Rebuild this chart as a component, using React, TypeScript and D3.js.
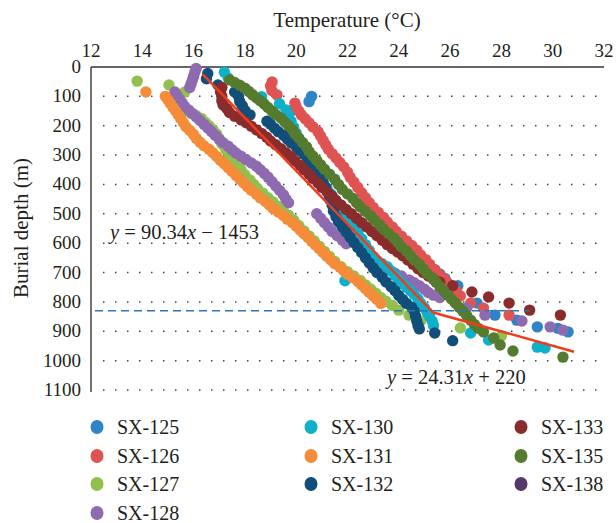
import React from "react";
import * as d3 from "d3";

// temperature (°C), burial depth (m)
const sx125 = [[20.6,100],[20.5,118],[19.8,150],[19.6,165],[24.6,640],[24.8,652],[25.0,665],[25.2,678],[25.4,690],[25.6,705],[25.8,720],[26.3,745],[27.05,804],[27.75,845],[28.6,862],[29.4,885],[30.2,890],[30.6,902]];
const sx126 = [[19.06,51],[19.0,65],[19.05,80],[19.25,95],[19.95,123],[20.0,137],[20.1,150],[20.2,163],[20.35,176],[20.5,190],[20.65,204],[20.85,220],[20.95,235],[21.05,250],[21.15,265],[21.25,280],[21.4,295],[21.55,310],[21.7,325],[21.85,340],[22.0,358],[22.1,375],[22.25,392],[22.4,410],[22.55,428],[22.7,445],[22.85,462],[23.0,478],[23.2,495],[23.4,512],[23.55,528],[23.75,545],[23.9,560],[24.1,576],[24.3,592],[24.5,608],[24.7,624],[24.85,640],[25.05,656],[25.2,672],[25.4,690],[25.55,705],[25.75,720],[25.9,735],[26.1,750],[26.25,765],[26.4,780],[26.8,804],[27.3,821],[28.3,845]];
const sx127 = [[13.8,48],[15.04,61],[15.66,85],[15.1,118],[15.25,130],[15.45,142],[15.65,150],[15.9,158],[16.1,165],[16.3,175],[16.45,188],[16.6,200],[16.75,213],[16.9,228],[17.0,245],[17.1,262],[17.25,280],[17.4,298],[17.55,315],[17.7,333],[17.85,350],[18.0,367],[18.2,385],[18.35,400],[18.5,415],[18.7,430],[18.9,445],[19.1,460],[19.3,475],[19.5,490],[19.7,505],[19.9,521],[20.1,540],[20.3,558],[20.5,575],[20.7,592],[20.9,610],[21.1,628],[21.3,645],[21.5,662],[21.75,680],[22.0,697],[22.25,712],[22.5,727],[22.7,742],[22.9,756],[23.1,770],[23.3,785],[23.5,798],[23.75,812],[24.0,828],[24.4,845],[24.85,865],[26.4,889],[28.0,916]];
const sx128 = [[16.1,5],[16.05,18],[16.0,32],[15.95,45],[15.9,58],[15.85,70],[15.27,85],[15.35,97],[15.45,110],[15.55,122],[15.65,134],[15.8,146],[15.95,158],[16.1,170],[16.25,182],[16.4,195],[16.55,208],[16.7,220],[16.85,233],[17.0,246],[17.15,258],[17.35,270],[17.5,282],[17.65,293],[17.85,304],[18.05,316],[18.25,327],[18.45,338],[18.6,350],[18.75,362],[18.9,375],[19.05,390],[19.2,405],[19.35,420],[19.5,435],[19.6,450],[19.7,462],[20.8,500],[20.95,515],[21.1,530],[21.25,545],[21.4,560],[21.6,575],[21.8,590],[21.95,602],[23.4,680],[23.65,692],[23.85,702],[24.1,712],[24.4,725],[24.6,735],[24.8,745],[25.0,757],[25.15,768],[25.35,777],[25.6,785],[26.65,821],[27.36,845],[28.8,865],[29.9,885],[30.4,896]];
const sx130 = [[17.2,18],[17.35,38],[18.65,101],[19.35,125],[19.6,146],[19.7,165],[19.8,185],[19.9,205],[20.0,225],[20.1,245],[20.2,265],[20.3,285],[20.45,305],[20.6,325],[20.7,345],[20.8,362],[20.9,380],[21.05,397],[21.2,414],[21.35,432],[21.5,450],[21.65,468],[21.8,487],[21.95,506],[22.1,525],[22.25,545],[22.4,565],[22.55,585],[22.7,605],[22.85,625],[23.0,645],[23.15,660],[23.35,670],[23.55,680],[23.7,695],[23.85,710],[24.0,725],[24.15,738],[24.3,750],[24.45,762],[24.6,775],[24.75,790],[24.85,805],[25.0,820],[25.1,835],[25.2,850],[25.3,865],[25.35,880],[21.9,728],[26.8,906],[27.5,930],[29.4,954],[29.7,957]];
const sx131 = [[14.14,85],[14.9,100],[15.0,112],[15.1,125],[15.2,138],[15.3,150],[15.4,163],[15.5,176],[15.6,190],[15.7,203],[15.85,216],[16.0,230],[16.1,243],[16.25,256],[16.4,268],[16.6,280],[16.75,292],[16.9,305],[17.05,318],[17.2,330],[17.35,343],[17.5,356],[17.65,369],[17.8,382],[17.95,395],[18.1,408],[18.25,420],[18.45,433],[18.6,446],[18.8,458],[18.95,470],[19.1,482],[19.3,494],[19.5,506],[19.65,518],[19.85,530],[20.0,542],[20.15,555],[20.3,568],[20.45,580],[20.6,593],[20.75,606],[20.9,619],[21.05,632],[21.2,645],[21.35,657],[21.5,670],[21.7,682],[21.85,694],[22.0,706],[22.2,718],[22.4,730],[22.55,742],[22.7,755],[22.85,768],[23.0,780],[23.15,792],[23.3,805]];
const sx132 = [[16.55,22],[16.5,40],[16.95,61],[17.6,85],[17.75,100],[17.8,118],[17.9,132],[18.0,148],[18.2,163],[18.86,185],[19.0,195],[19.15,208],[19.3,220],[19.5,232],[19.65,245],[19.8,258],[20.0,272],[20.15,285],[20.3,298],[20.45,315],[20.6,330],[20.75,345],[20.85,358],[20.95,375],[21.05,392],[21.15,410],[21.25,430],[21.3,450],[21.4,470],[21.45,490],[21.55,510],[21.65,528],[21.8,545],[21.95,562],[22.1,580],[22.25,598],[22.4,615],[22.55,632],[22.7,650],[22.85,667],[23.0,684],[23.15,700],[23.35,716],[23.5,732],[23.7,748],[23.85,762],[24.0,778],[24.15,792],[24.3,805],[24.5,818],[24.6,832],[24.65,848],[24.7,865],[24.75,880],[24.8,892],[25.4,906],[26.1,932]];
const sx133 = [[17.1,70],[17.05,85],[17.1,100],[17.1,115],[17.15,129],[17.3,142],[17.4,155],[17.6,168],[17.85,180],[18.05,190],[18.25,202],[18.45,214],[18.65,226],[18.85,239],[19.0,252],[19.2,265],[19.4,278],[19.6,292],[19.8,305],[19.95,320],[20.15,335],[20.3,350],[20.5,365],[20.65,380],[20.85,395],[21.0,410],[21.2,425],[21.4,440],[21.55,455],[21.75,470],[21.95,485],[22.15,500],[22.35,515],[22.55,530],[22.75,545],[22.95,560],[23.15,575],[23.35,590],[23.55,605],[23.75,618],[23.95,630],[24.15,643],[24.35,657],[24.55,672],[24.75,687],[24.95,700],[25.15,712],[25.35,723],[25.6,733],[26.1,745],[26.85,766],[27.5,783],[28.3,804],[29.1,828],[30.3,845]];
const sx135 = [[17.4,44],[17.6,53],[17.8,62],[18.0,72],[18.15,83],[18.3,95],[18.45,105],[18.6,115],[18.75,126],[18.9,138],[19.05,150],[19.2,162],[19.4,174],[19.55,187],[19.7,200],[19.85,213],[19.95,227],[20.1,242],[20.25,257],[20.4,272],[20.5,288],[20.65,303],[20.8,318],[20.95,333],[21.1,348],[21.3,365],[21.5,382],[21.65,400],[21.8,417],[22.0,432],[22.2,447],[22.35,462],[22.5,477],[22.7,492],[22.9,507],[23.05,522],[23.25,537],[23.4,552],[23.6,567],[23.8,582],[23.95,597],[24.1,612],[24.3,627],[24.45,642],[24.6,657],[24.8,672],[24.95,688],[25.1,703],[25.3,718],[25.45,733],[25.6,748],[25.75,762],[25.9,776],[26.05,790],[26.2,804],[26.35,818],[26.5,832],[26.65,847],[26.8,862],[26.95,877],[27.1,890],[27.3,902],[27.7,923],[27.95,947],[28.45,967],[30.4,988]];
const sx138: number[][] = [];

const seriesNames = ["SX-125","SX-126","SX-127","SX-128","SX-130","SX-131","SX-132","SX-133","SX-135","SX-138"];
const seriesData = [sx125, sx126, sx127, sx128, sx130, sx131, sx132, sx133, sx135, sx138];
const seriesColors = ["#2f83c7","#df5353","#92c050","#8e6bb0","#0fb0c9","#f58c3a","#114f7a","#8b2c2c","#557b2e","#553966"];

const xTicks = [12,14,16,18,20,22,24,26,28,30,32];
const yTicks = [0,100,200,300,400,500,600,700,800,900,1000,1100];

// fitted lines: depth = a * T + b
const fit1 = { a: 90.34, b: -1453, t0: 16.35, t1: 25.34 };
const fit2 = { a: 24.31, b: 220, t0: 25.34, t1: 30.83 };
const boundaryDepth = 830;

export default function App() {
  const width = 616;
  const height = 523;
  const font = "'Liberation Serif', 'Times New Roman', serif";
  const x = d3.scaleLinear().domain([12, 32]).range([91, 604]);
  const y = d3.scaleLinear().domain([0, 1100]).range([67, 390]);
  const line = d3.line<number[]>().x((d) => x(d[0])).y((d) => y(d[1]));
  const fitPts = (f: typeof fit1) => [[f.t0, f.a * f.t0 + f.b], [f.t1, f.a * f.t1 + f.b]];

  const legendCols = [97, 311, 521];
  const legendRows = [427, 456, 484, 513];

  return (
    <svg width={width} height={height} style={{ position: "absolute", left: 0, top: 0 }} fontFamily={font}>
      <rect width={width} height={height} fill="#fff" />
      {/* gridlines */}
      {yTicks.slice(1).map((t) => (
        <line key={t} x1={x(12) + 12} x2={598} y1={y(t)} y2={y(t)} stroke="#444" strokeWidth={1.5} strokeDasharray="1.5 10.5" />
      ))}
      {/* axes */}
      <line x1={x(12)} x2={x(32)} y1={y(0)} y2={y(0)} stroke="#666" strokeWidth={2} />
      <line x1={x(12)} x2={x(12)} y1={y(0)} y2={y(1100) + 2} stroke="#444" strokeWidth={1.5} />
      {xTicks.map((t) => (
        <text key={t} x={x(t)} y={57} textAnchor="middle" fontSize={19} fill="#231f20">{t}</text>
      ))}
      {yTicks.map((t) => (
        <text key={t} x={81} y={y(t) + 6} textAnchor="end" fontSize={19} fill="#231f20">{t}</text>
      ))}
      <text x={347} y={27} textAnchor="middle" fontSize={21} fill="#231f20">Temperature (°C)</text>
      <text transform="translate(28,228) rotate(-90)" textAnchor="middle" fontSize={21} fill="#231f20">Burial depth (m)</text>

      {/* points */}
      {seriesData.map((s, i) => (
        <g key={seriesNames[i]} fill={seriesColors[i]}>
          {s.map((d, j) => (
            <circle key={j} cx={x(d[0])} cy={y(d[1])} r={5.7} />
          ))}
        </g>
      ))}

      {/* boundary and fits */}
      <line x1={95} x2={x(29.1)} y1={y(boundaryDepth)} y2={y(boundaryDepth)} stroke="#2e75b6" strokeWidth={1.5} strokeDasharray="8 5" />
      <path d={line(fitPts(fit1)) || ""} stroke="#f03c1e" strokeWidth={2.5} fill="none" />
      <path d={line(fitPts(fit2)) || ""} stroke="#f03c1e" strokeWidth={2.5} fill="none" />
      <text x={110} y={239} fontSize={20.5} fill="#231f20">
        <tspan fontStyle="italic">y</tspan> = 90.34<tspan fontStyle="italic">x</tspan> − 1453
      </text>
      <text x={387} y={384} fontSize={20.5} fill="#231f20">
        <tspan fontStyle="italic">y</tspan> = 24.31<tspan fontStyle="italic">x</tspan> + 220
      </text>

      {/* legend */}
      {seriesNames.map((name, i) => {
        const col = i < 4 ? 0 : i < 7 ? 1 : 2;
        const row = i < 4 ? i : i < 7 ? i - 4 : i - 7;
        return (
          <g key={name} transform={`translate(${legendCols[col]},${legendRows[row]})`}>
            <ellipse cx={0} cy={0} rx={6.5} ry={7} fill={seriesColors[i]} />
            <text x={20} y={6.5} fontSize={20} fill="#231f20">{name}</text>
          </g>
        );
      })}
    </svg>
  );
}
